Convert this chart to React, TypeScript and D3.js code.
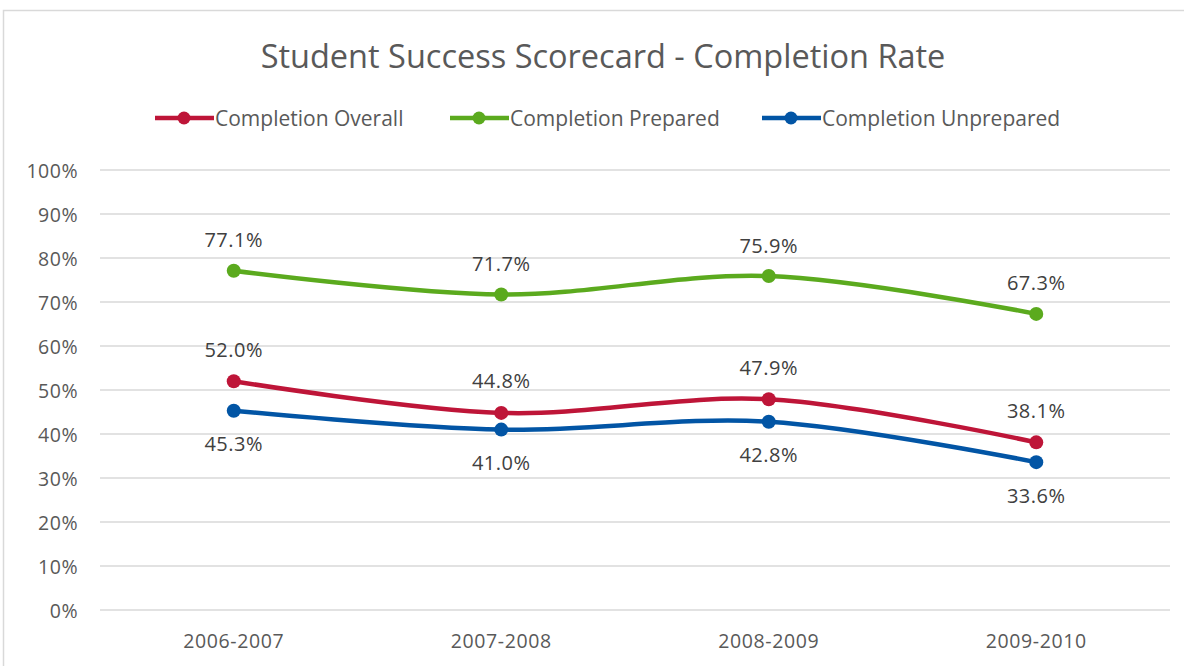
import React from "react";
import * as d3 from "d3";

const categories = ["2006-2007", "2007-2008", "2008-2009", "2009-2010"];
const overall = [52.0, 44.8, 47.9, 38.1];
const prepared = [77.1, 71.7, 75.9, 67.3];
const unprepared = [45.3, 41.0, 42.8, 33.6];
const yTicks = [0, 10, 20, 30, 40, 50, 60, 70, 80, 90, 100];
const seriesNames = ["Completion Overall", "Completion Prepared", "Completion Unprepared"];

const W = 1184;
const H = 666;
const FONT = "'Open Sans', sans-serif";
const TEXT = "#595959";

export default function App() {
  const x = d3.scaleBand<string>().domain(categories).range([100, 1170]);
  const y = d3.scaleLinear().domain([0, 100]).range([610, 170]);
  const cx = (c: string) => (x(c) as number) + x.bandwidth() / 2;

  const series = [
    { name: seriesNames[1], values: prepared, color: "#5BAA1E", labelDy: -31, legendX: 450 },
    { name: seriesNames[0], values: overall, color: "#BE1538", labelDy: -32, legendX: 155 },
    { name: seriesNames[2], values: unprepared, color: "#0255A5", labelDy: 33, legendX: 762 },
  ];

  const line = d3
    .line<number>()
    .x((_, i) => cx(categories[i]))
    .y((d) => y(d))
    .curve(d3.curveCatmullRom.alpha(0.5));

  const legendOrder = [series[1], series[0], series[2]];

  return (
    <svg
      width={W}
      height={H}
      style={{ position: "absolute", left: 0, top: 0, background: "#fff" }}
      fontFamily={FONT}
    >
      <rect x={0} y={0} width={W} height={H} fill="#fff" />
      <rect x={3.5} y={10.5} width={W + 10} height={H + 10} fill="none" stroke="#D9D9D9" strokeWidth={1.5} />
      <text x={603} y={55} textAnchor="middle" dominantBaseline="central" fontSize={32.5} fill={TEXT}>
        Student Success Scorecard - Completion Rate
      </text>

      {legendOrder.map((s) => (
        <g key={s.name}>
          <line x1={s.legendX} x2={s.legendX + 59} y1={118} y2={118} stroke={s.color} strokeWidth={4.5} />
          <circle cx={s.legendX + 29} cy={118} r={6.5} fill={s.color} />
          <text x={s.legendX + 60} y={118} dominantBaseline="central" fontSize={21} fill={TEXT}>
            {s.name}
          </text>
        </g>
      ))}

      {yTicks.map((t) => (
        <g key={t}>
          <line x1={100} x2={1170} y1={y(t)} y2={y(t)} stroke="#D9D9D9" strokeWidth={1.5} />
          <text x={78} y={y(t)} textAnchor="end" dominantBaseline="central" fontSize={19.5} letterSpacing={0.5} fill={TEXT}>
            {t}%
          </text>
        </g>
      ))}

      {categories.map((c) => (
        <text key={c} x={cx(c)} y={640} textAnchor="middle" dominantBaseline="central" fontSize={19.5} letterSpacing={0.6} fill={TEXT}>
          {c}
        </text>
      ))}

      {series.map((s) => (
        <g key={s.name}>
          <path d={line(s.values) || ""} fill="none" stroke={s.color} strokeWidth={4.5} strokeLinecap="round" />
          {s.values.map((v, i) => (
            <circle key={i} cx={cx(categories[i])} cy={y(v)} r={7} fill={s.color} />
          ))}
          {s.values.map((v, i) => (
            <text
              key={"l" + i}
              x={cx(categories[i])}
              y={y(v) + s.labelDy}
              textAnchor="middle"
              dominantBaseline="central"
              fontSize={20}
              letterSpacing={0.5}
              fill="#404040"
            >
              {v.toFixed(1)}%
            </text>
          ))}
        </g>
      ))}
    </svg>
  );
}
